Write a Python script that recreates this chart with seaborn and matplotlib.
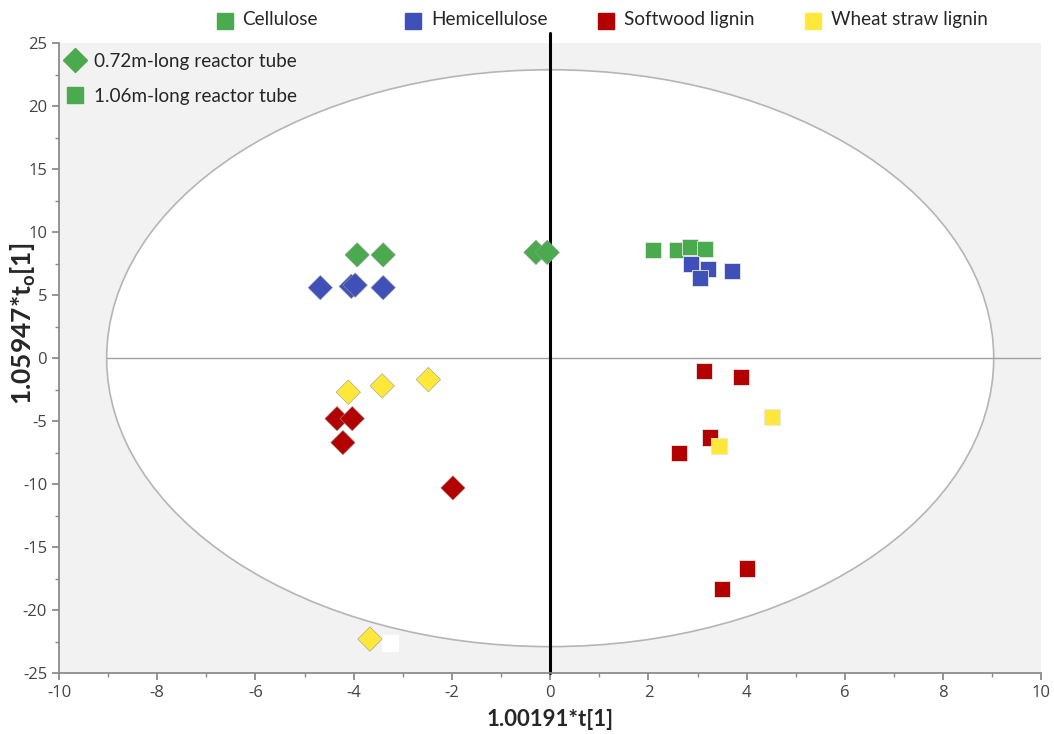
import pandas as pd
import matplotlib.pyplot as plt
import seaborn as sns
from matplotlib.patches import Ellipse
from matplotlib.lines import Line2D
from matplotlib.ticker import MultipleLocator

sns.set_theme(style="white")
plt.rcParams['font.family'] = ['Lato', 'DejaVu Sans']
plt.rcParams['axes.unicode_minus'] = False

# Dados
materials = ['Cellulose', 'Hemicellulose', 'Softwood lignin', 'Wheat straw lignin']
colors = ['#4aaa4d', '#3f51b8', '#b30000', '#ffe83a']

# 0.72m (losangos)
mat_072 = ['Cellulose'] * 4 + ['Hemicellulose'] * 4 + ['Softwood lignin'] * 4 + ['Wheat straw lignin'] * 4
x_072 = [-3.93, -3.40, -0.29, -0.06,
         -4.68, -4.05, -3.97, -3.40,
         -4.34, -4.03, -4.22, -1.98,
         -4.11, -3.42, -2.48, -3.67]
y_072 = [8.2, 8.2, 8.4, 8.4,
         5.6, 5.7, 5.8, 5.6,
         -4.8, -4.8, -6.7, -10.3,
         -2.7, -2.2, -1.7, -22.3]

# 1.06m (quadrados)
mat_106 = ['Cellulose'] * 4 + ['Hemicellulose'] * 4 + ['Softwood lignin'] * 6 + ['Wheat straw lignin'] * 2
x_106 = [2.10, 2.59, 2.85, 3.16,
         2.87, 3.22, 3.05, 3.71,
         3.14, 3.89, 3.26, 2.63, 4.01, 3.50,
         4.52, 3.44]
y_106 = [8.6, 8.6, 8.8, 8.7,
         7.5, 7.1, 6.4, 6.9,
         -1.0, -1.5, -6.3, -7.5, -16.7, -18.3,
         -4.7, -7.0]

# ponto mascarado (mancha branca)
masked_x = [-3.26]
masked_y = [-22.6]

# elipse de Hotelling
ell_a, ell_b = 9.03, 22.9

df072 = pd.DataFrame({'mat': mat_072, 'x': x_072, 'y': y_072})
df106 = pd.DataFrame({'mat': mat_106, 'x': x_106, 'y': y_106})
palette = dict(zip(materials, colors))

fig = plt.figure(figsize=(10.54, 7.34), dpi=100)
ax = fig.add_axes([0.056, 0.083, 0.932, 0.858])
ax.set_facecolor('#f2f2f2')

ax.add_patch(Ellipse((0, 0), 2 * ell_a, 2 * ell_b, facecolor='white',
                     edgecolor='#b5b5b5', lw=1.2, zorder=0.5))
ax.plot([-ell_a, 10], [0, 0], color='#a0a0a0', lw=1, zorder=1)
ax.plot([0, 0], [-25, 25.8], color='black', lw=2.2, zorder=1, clip_on=False)

sns.scatterplot(data=df072, x='x', y='y', hue='mat', palette=palette, marker='D',
                s=155, edgecolor='#999999', linewidth=0.4, legend=False, ax=ax, zorder=3)
sns.scatterplot(data=df106, x='x', y='y', hue='mat', palette=palette, marker='s',
                s=135, edgecolor='#e8e8e8', linewidth=0.6, legend=False, ax=ax, zorder=4)
ax.scatter(masked_x, masked_y, marker='s', s=130, color='white', zorder=2)

ax.set_xlim(-10, 10)
ax.set_ylim(-25, 25)
ax.xaxis.set_major_locator(MultipleLocator(2))
ax.xaxis.set_minor_locator(MultipleLocator(1))
ax.yaxis.set_major_locator(MultipleLocator(5))
ax.yaxis.set_minor_locator(MultipleLocator(2.5))
ax.tick_params(which='both', direction='out', color='#888888', left=True, bottom=True,
               labelsize=12, labelcolor='#444444')
ax.tick_params(which='major', length=5)
ax.tick_params(which='minor', length=3)
for lab in ax.get_xticklabels() + ax.get_yticklabels():
    lab.set_family(['Open Sans', 'DejaVu Sans'])
for side in ['top', 'right']:
    ax.spines[side].set_visible(False)
for side in ['left', 'bottom']:
    ax.spines[side].set_color('#888888')

ax.set_xlabel('1.00191*t[1]', fontsize=16, fontweight='bold', labelpad=6)
ax.set_ylabel(r'1.05947*t$_\mathregular{o}$[1]', fontsize=19, fontweight='bold')
ax.yaxis.set_label_coords(-0.021, 0.555)

# legenda dos materiais (topo)
leg_x = [0.213, 0.392, 0.575, 0.771]
for lx, c, m in zip(leg_x, colors, materials):
    fig.add_artist(Line2D([lx], [0.972], marker='s', ls='', color=c, markersize=11,
                          transform=fig.transFigure))
    fig.text(lx + 0.017, 0.974, m, fontsize=13.6, va='center', ha='left')

# legenda dos tubos
tube_handles = [Line2D([], [], marker='D', ls='', color=colors[0], markersize=12),
                Line2D([], [], marker='s', ls='', color=colors[0], markersize=11)]
ax.legend(tube_handles, ['0.72m-long reactor tube', '1.06m-long reactor tube'],
          loc='upper left', bbox_to_anchor=(-0.02, 1.012), frameon=False, fontsize=13.6,
          handletextpad=0.0, labelspacing=0.95)

fig.savefig('out.png', dpi=100)
